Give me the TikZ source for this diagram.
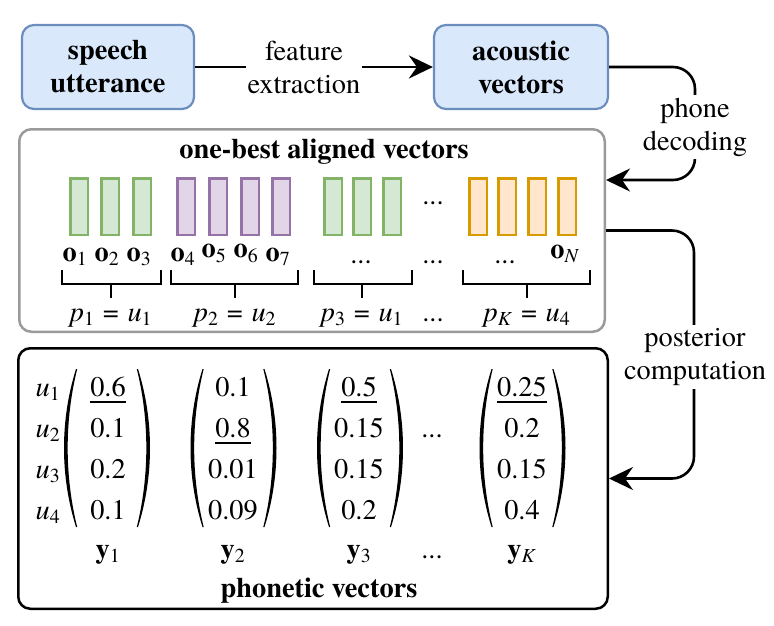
\documentclass[tikz,border=0pt]{standalone}
\usepackage{fontspec}
\newfontfamily\tms{texgyretermes}[Extension=.otf, UprightFont=*-regular, BoldFont=*-bold, ItalicFont=*-italic, BoldItalicFont=*-bolditalic]
\definecolor{bfill}{HTML}{DAE8FC}
\definecolor{bdraw}{HTML}{6C8EBF}
\definecolor{gfill}{HTML}{D5E8D4}
\definecolor{gdraw}{HTML}{82B366}
\definecolor{pfill}{HTML}{E1D5E7}
\definecolor{pdraw}{HTML}{9673A6}
\definecolor{ofill}{HTML}{FFE6CC}
\definecolor{odraw}{HTML}{D79B00}
\definecolor{greybd}{HTML}{9A9A9A}
\newcommand\ob[1]{\textbf{o}\textsubscript{#1}}
\newcommand\yb[1]{\textbf{y}\textsubscript{#1}}
\newcommand\iu[1]{\textit{u}\textsubscript{#1}}
\newcommand\ip[1]{\textit{p}\textsubscript{#1}}
\newcommand\eqs{\hspace{0.3em}=\hspace{0.3em}}
\newcommand\ulnum[1]{\setbox0\hbox{#1}\rlap{\rule[-7pt]{\wd0}{1.8pt}}\box0}
\usetikzlibrary{arrows.meta,calc}
\begin{document}
\begin{tikzpicture}[x=1pt,y=-1pt,
  every node/.style={font=\tms\fontsize{28.4}{33}\selectfont, inner sep=0pt},
  bluebox/.style={draw=bdraw, fill=bfill, line width=2.2pt, rounded corners=12pt,
    minimum width=172pt, minimum height=84pt, align=center,
    font=\tms\fontsize{28.4}{33}\selectfont\bfseries},
  frame/.style={rounded corners=12pt, line width=2.5pt},
  vecbox/.style={minimum width=17.5pt, minimum height=56.5pt, line width=2.5pt},
  gvec/.style={vecbox, draw=gdraw, fill=gfill},
  pvec/.style={vecbox, draw=pdraw, fill=pfill},
  ovec/.style={vecbox, draw=odraw, fill=ofill},
  conn/.style={line width=2.6pt, -{Stealth[length=24pt,width=23pt,inset=8pt]}},
  lbl/.style={fill=white, align=center, inner xsep=2pt, inner ysep=3pt},
  bl/.style={anchor=base},
  brk/.style={line width=2.5pt},
  pics/paren/.style={code={
    \fill[xscale=#1] (-31,-79) .. controls (-47,-28) and (-47,28) .. (-31,79)
      -- (-29.8,79) .. controls (-42.5,28) and (-42.5,-28) .. (-29.8,-79) -- cycle;}}
]
\useasboundingbox (0,0) rectangle (774,625);

% top row
\node[bluebox] (speech) at (108,67) {speech\\utterance};
\node[bluebox, minimum width=174pt] (acoustic) at (521,67) {acoustic\\vectors};

% frames
\node[frame, draw=greybd, minimum width=585.5pt, minimum height=202.5pt] (grey) at (312,230.5) {};
\node[frame, draw=black, minimum width=589.5pt, minimum height=260.5pt] (black) at (313,478.5) {};

% connectors
\draw[conn] (speech) -- node[lbl, pos=0.458] (fe) {feature\\extraction} (acoustic);
\coordinate (pd) at (695,180);
\draw[conn, rounded corners=22pt] (acoustic.east) -| (pd) -- (grey.east |- pd);
\node[lbl] (pdl) at (695,127) {phone\\decoding};
\coordinate (pc) at (694,478.5);
\draw[conn, rounded corners=22pt] (grey.east) -| (pc) -- (black.east);
\node[lbl] (pcl) at (695,357) {posterior\\computation};

% aligned vectors
\node[bl, font=\tms\fontsize{28.4}{33}\selectfont\bfseries] (title) at (324,158) {one-best aligned vectors};
\node[gvec] (v1) at (79,206.5) {};
\node[gvec] (v2) at (110,206.5) {};
\node[gvec] (v3) at (142,206.5) {};
\node[pvec] (v4) at (186,206.5) {};
\node[pvec] (v5) at (218,206.5) {};
\node[pvec] (v6) at (250,206.5) {};
\node[pvec] (v7) at (281,206.5) {};
\node[gvec] (v8) at (333,206.5) {};
\node[gvec] (v9) at (362,206.5) {};
\node[gvec] (v10) at (392,206.5) {};
\node[bl] (dv) at (433,204) {...};
\node[ovec] (v11) at (478,206.5) {};
\node[ovec] (v12) at (507,206.5) {};
\node[ovec] (v13) at (537,206.5) {};
\node[ovec] (v14) at (567,206.5) {};

\node[bl] (o1) at (75,261) {\ob{1}};
\node[bl] (o2) at (107,261) {\ob{2}};
\node[bl] (o3) at (139,261) {\ob{3}};
\node[bl] (o4) at (183,261) {\ob{4}};
\node[bl] (o5) at (214,257) {\ob{5}};
\node[bl] (o6) at (246,257) {\ob{6}};
\node[bl] (o7) at (278,261) {\ob{7}};
\node[bl] (od1) at (361,263) {...};
\node[bl] (od2) at (433,263) {...};
\node[bl] (od3) at (505,263) {...};
\node[bl] (oN) at (565,258) {\ob{\textit{N}}};

% brackets and phone labels
\node[bl] (p1) at (111,321) {\ip{1}\eqs\iu{1}};
\node[bl] (p2) at (235,321) {\ip{2}\eqs\iu{2}};
\node[bl] (p3) at (362,321) {\ip{3}\eqs\iu{1}};
\node[bl] (pd2) at (433,321) {...};
\node[bl] (pK) at (527,321) {\ip{\textit{K}}\eqs\iu{4}};
\draw[brk] (62,270) -- (62,284) -- (161,284) -- (161,270);
\draw[brk] (111,284) -- (111,298);
\draw[brk] (171,270) -- (171,284) -- (298,284) -- (298,270);
\draw[brk] (235,284) -- (235,298);
\draw[brk] (314,270) -- (314,284) -- (412,284) -- (412,270);
\draw[brk] (362,284) -- (362,298);
\draw[brk] (463,270) -- (463,284) -- (590,284) -- (590,270);
\draw[brk] (527,284) -- (527,298);

% phonetic vectors
\node[bl] (u1) at (48,396) {\iu{1}};
\node[bl] (u2) at (48,437) {\iu{2}};
\node[bl] (u3) at (48,478) {\iu{3}};
\node[bl] (u4) at (48,519) {\iu{4}};

\pic at (107,448) {paren=1};
\pic at (107,448) {paren=-1};
\node[bl] (a1) at (108,396) {\ulnum{0.6}};
\node[bl] (a2) at (108,437) {0.1};
\node[bl] (a3) at (108,478) {0.2};
\node[bl] (a4) at (108,519) {0.1};
\node[bl] (y1) at (108,558) {\yb{1}};

\pic at (233.5,448) {paren=1};
\pic at (233.5,448) {paren=-1};
\node[bl] (b1) at (233,396) {0.1};
\node[bl] (b2) at (233,437) {\ulnum{0.8}};
\node[bl] (b3) at (233,478) {0.01};
\node[bl] (b4) at (233,519) {0.09};
\node[bl] (y2) at (233,558) {\yb{2}};

\pic at (360,448) {paren=1};
\pic at (360,448) {paren=-1};
\node[bl] (c1) at (359,396) {\ulnum{0.5}};
\node[bl] (c2) at (359,437) {0.15};
\node[bl] (c3) at (359,478) {0.15};
\node[bl] (c4) at (359,519) {0.2};
\node[bl] (y3) at (359,558) {\yb{3}};

\node[bl] (md) at (432,437) {...};
\node[bl] (yd) at (432,558) {...};

\pic at (522.5,448) {paren=1};
\pic at (522.5,448) {paren=-1};
\node[bl] (d1) at (522,396) {\ulnum{0.25}};
\node[bl] (d2) at (522,437) {0.2};
\node[bl] (d3) at (522,478) {0.15};
\node[bl] (d4) at (522,519) {0.4};
\node[bl] (yK) at (522,558) {\yb{\textit{K}}};

\node[bl, font=\tms\fontsize{28.4}{33}\selectfont\bfseries] (pvt) at (319,597) {phonetic vectors};
\end{tikzpicture}
\end{document}
